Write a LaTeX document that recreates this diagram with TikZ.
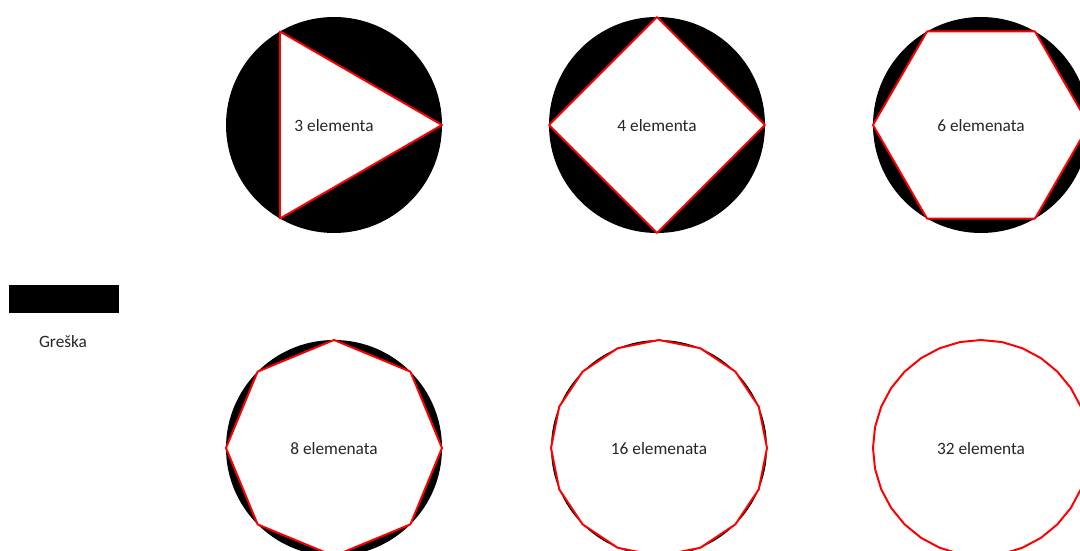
\documentclass[tikz,border=0pt]{standalone}
\usepackage{fontspec}
\setmainfont{Carlito}

\begin{document}
\begin{tikzpicture}[x=0.025cm, y=-0.025cm, line join=round,
    greska/.style={fill=black},
    poligon/.style={fill=white, draw=red, line width=1.4pt},
    oznaka/.style={text=black!85, font=\fontsize{12.3}{15}\selectfont}]
        % okvir slike (koordinate u pikselima)
        \useasboundingbox (0,0) rectangle (1080,551);
        \clip (0,0) rectangle (1080,551);
        \def\r{108}

        % legenda
        \fill[greska] (9,285) rectangle (119,313);
        \node[oznaka] (legenda) at (63,342) {Greška};

        % krug (greška) i upisani pravilni poligon s n elemenata
        \foreach \n/\cx/\cy/\txt in {3/334/125/3 elementa, 4/657/125/4 elementa,
                6/981/125/6 elemenata, 8/334/448/8 elemenata,
                16/659/448/16 elemenata, 32/981/448/32 elementa}{
            \begin{scope}[shift={(\cx,\cy)}]
                \fill[greska] (0,0) circle (\r);
                \draw[poligon] (0:\r) \foreach \k in {1,...,\n} { -- (\k*360/\n:\r) } -- cycle;
                \node[oznaka] (el\n) at (0,1) {\txt};
            \end{scope}
        }

    \end{tikzpicture}
\end{document}
